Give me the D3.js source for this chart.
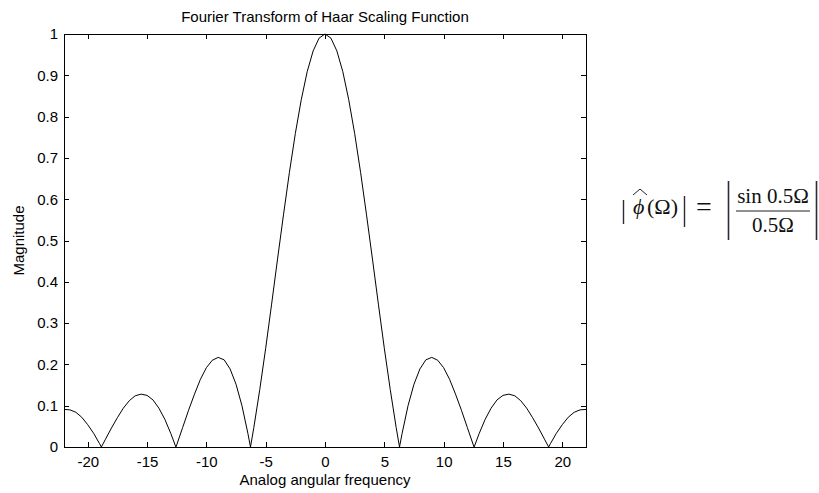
<!DOCTYPE html>
<html>
<head>
<meta charset="utf-8">
<script src="https://cdn.jsdelivr.net/npm/d3@7"></script>
<style>
  body { margin: 0; background: #fff; }
  svg { display: block; }
  .sans { font-family: "Liberation Sans", Arial, sans-serif; fill: #000; }
  .formula text { font-family: "Liberation Serif", "DejaVu Serif", serif; fill: #111; }
</style>
</head>
<body>
<div id="chart"></div>
<script>
// frequency samples and magnitude at each
const omega = [
  -22, -21.5, -21, -20.5, -20, -19.5, -19, -18.85, -18.5, -18, -17.5, -17, -16.5, -16, -15.5, -15,
  -14.5, -14, -13.5, -13, -12.57, -12.5, -12, -11.5, -11, -10.5, -10, -9.5, -9, -8.5, -8, -7.5,
  -7, -6.5, -6.28, -6, -5.5, -5, -4.5, -4, -3.5, -3, -2.5, -2, -1.5, -1, -0.5,
  0,
  0.5, 1, 1.5, 2, 2.5, 3, 3.5, 4, 4.5, 5, 5.5, 6, 6.28, 6.5, 7,
  7.5, 8, 8.5, 9, 9.5, 10, 10.5, 11, 11.5, 12, 12.5, 12.57, 13, 13.5, 14, 14.5,
  15, 15.5, 16, 16.5, 17, 17.5, 18, 18.5, 18.85, 19, 19.5, 20, 20.5, 21, 21.5, 22
];
const magnitude = [
  0.091, 0.090, 0.084, 0.072, 0.054, 0.033, 0.008, 0, 0.019, 0.046, 0.071, 0.094, 0.112, 0.124, 0.128, 0.125,
  0.114, 0.094, 0.067, 0.033, 0, 0.005, 0.047, 0.089, 0.128, 0.164, 0.192, 0.210, 0.217, 0.211, 0.189, 0.152,
  0.100, 0.033, 0, 0.047, 0.139, 0.239, 0.346, 0.455, 0.562, 0.665, 0.759, 0.841, 0.909, 0.959, 0.990,
  1,
  0.990, 0.959, 0.909, 0.841, 0.759, 0.665, 0.562, 0.455, 0.346, 0.239, 0.139, 0.047, 0, 0.033, 0.100,
  0.152, 0.189, 0.211, 0.217, 0.210, 0.192, 0.164, 0.128, 0.089, 0.047, 0.005, 0, 0.033, 0.067, 0.094, 0.114,
  0.125, 0.128, 0.124, 0.112, 0.094, 0.071, 0.046, 0.019, 0, 0.008, 0.033, 0.054, 0.072, 0.084, 0.090, 0.091
];
const xTicks = [-20, -15, -10, -5, 0, 5, 10, 15, 20];
const yTicks = [0, 0.1, 0.2, 0.3, 0.4, 0.5, 0.6, 0.7, 0.8, 0.9, 1];

const width = 819;
const height = 493;
const margin = { top: 34, left: 64, right: 233, bottom: 46 };
const plotW = width - margin.left - margin.right;
const plotH = height - margin.top - margin.bottom;

const svg = d3.select("#chart")
    .append("svg")
    .attr("width", width)
    .attr("height", height);

const x = d3.scaleLinear().domain([-22, 22]).range([0, plotW]);
const y = d3.scaleLinear().domain([0, 1]).range([plotH, 0]);

const g = svg.append("g")
    .attr("transform", `translate(${margin.left},${margin.top})`);

// box
g.append("rect")
    .attr("width", plotW)
    .attr("height", plotH)
    .attr("fill", "none")
    .attr("stroke", "#000")
    .attr("stroke-width", 1)
    .attr("shape-rendering", "crispEdges");

// plain hyphen for negatives, like the original
const fmt = d => String(+d.toFixed(1));

function styleAxis(sel) {
    sel.select(".domain").remove();
    sel.selectAll("line").attr("stroke", "#000").attr("shape-rendering", "crispEdges");
    sel.selectAll("text").attr("class", "sans").style("font-size", "15px").attr("fill", "#000");
}

g.append("g")
    .attr("transform", `translate(0,${plotH})`)
    .call(d3.axisBottom(x).tickValues(xTicks).tickSizeInner(-5).tickSizeOuter(0).tickPadding(9).tickFormat(fmt))
    .call(styleAxis);

g.append("g")
    .call(d3.axisTop(x).tickValues(xTicks).tickSizeInner(-5).tickSizeOuter(0).tickFormat(""))
    .call(styleAxis);

g.append("g")
    .call(d3.axisLeft(y).tickValues(yTicks).tickSizeInner(-5).tickSizeOuter(0).tickPadding(6).tickFormat(fmt))
    .call(styleAxis);

g.append("g")
    .attr("transform", `translate(${plotW},0)`)
    .call(d3.axisRight(y).tickValues(yTicks).tickSizeInner(-5).tickSizeOuter(0).tickFormat(""))
    .call(styleAxis);

// curve
const line = d3.line()
    .x((d, i) => x(omega[i]))
    .y(d => y(d));

g.append("path")
    .datum(magnitude)
    .attr("d", line)
    .attr("fill", "none")
    .attr("stroke", "#000")
    .attr("stroke-width", 1);

// labels
svg.append("text")
    .attr("class", "sans")
    .attr("x", margin.left + plotW / 2)
    .attr("y", 22)
    .attr("text-anchor", "middle")
    .style("font-size", "15px")
    .text("Fourier Transform of Haar Scaling Function");

svg.append("text")
    .attr("class", "sans")
    .attr("x", margin.left + plotW / 2)
    .attr("y", 485)
    .attr("text-anchor", "middle")
    .style("font-size", "15px")
    .text("Analog angular frequency");

svg.append("text")
    .attr("class", "sans")
    .attr("transform", `translate(24,${margin.top + plotH / 2}) rotate(-90)`)
    .attr("text-anchor", "middle")
    .style("font-size", "15px")
    .text("Magnitude");

// formula |phi-hat(Omega)| = |sin 0.5Omega / 0.5Omega|
const eq = svg.append("g").attr("class", "formula");
const bar = (x0, y0, y1, w) => eq.append("line")
    .attr("x1", x0).attr("x2", x0).attr("y1", y0).attr("y2", y1)
    .attr("stroke", "#2b2b3a").attr("stroke-width", w || 1.4);

bar(623.5, 200, 224);
eq.append("text").attr("x", 633).attr("y", 214)
    .style("font-size", "22px").style("font-style", "italic")
    .text("ϕ");
eq.append("path")
    .attr("d", "M633,195 L640,189 L647,195")
    .attr("fill", "none").attr("stroke", "#222").attr("stroke-width", 1);
eq.append("text").attr("x", 647).attr("y", 214)
    .style("font-size", "22px")
    .text("(Ω)");
bar(684.5, 196, 227);
eq.append("text").attr("x", 704).attr("y", 216).attr("text-anchor", "middle")
    .style("font-size", "28px")
    .text("=");
bar(728.5, 181, 240, 1.6);
eq.append("text").attr("x", 773).attr("y", 203).attr("text-anchor", "middle")
    .style("font-size", "21px")
    .text("sin 0.5Ω");
eq.append("line")
    .attr("x1", 736).attr("x2", 810).attr("y1", 211).attr("y2", 211)
    .attr("stroke", "#222").attr("stroke-width", 1.2);
eq.append("text").attr("x", 773).attr("y", 232).attr("text-anchor", "middle")
    .style("font-size", "21px")
    .text("0.5Ω");
bar(816.5, 181, 240, 1.6);
</script>
</body>
</html>
